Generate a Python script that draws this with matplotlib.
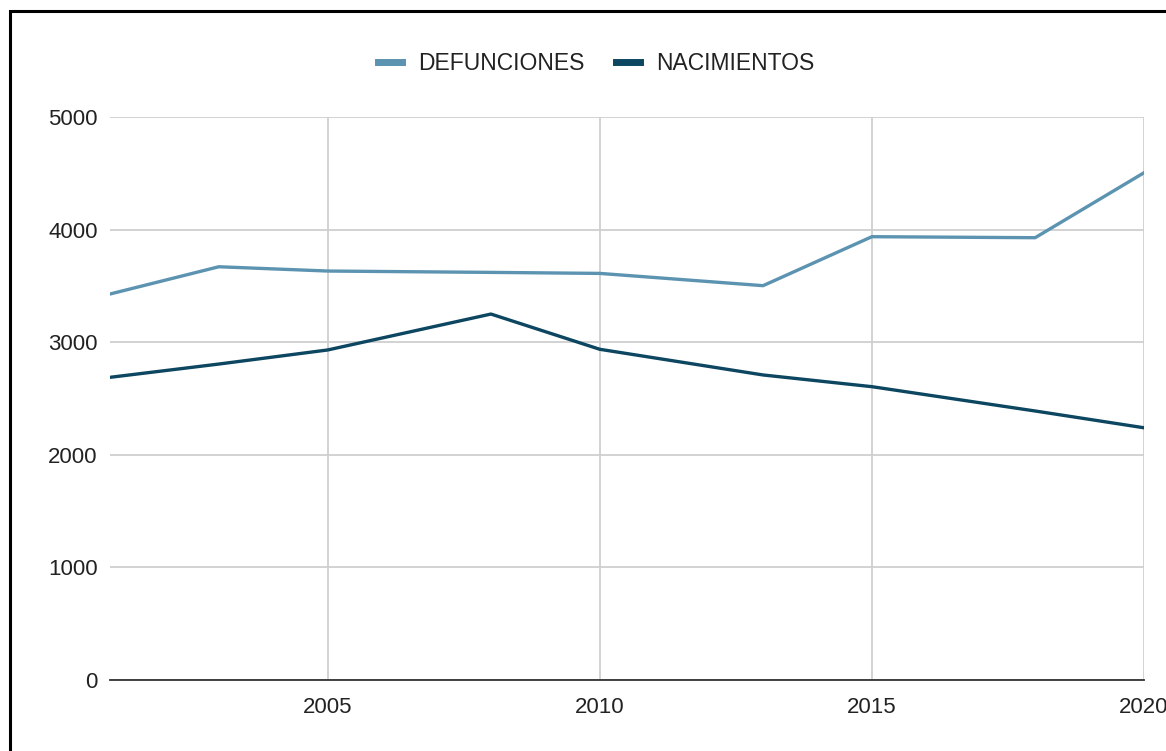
import matplotlib
matplotlib.use("Agg")
import matplotlib.pyplot as plt
from matplotlib.patches import Rectangle

years = [2001, 2003, 2005, 2008, 2010, 2013, 2015, 2018, 2020]
defunciones = [3428, 3670, 3632, 3620, 3611, 3502, 3937, 3928, 4505]
nacimientos = [2688, 2806, 2931, 3250, 2937, 2709, 2605, 2389, 2240]
x_ticks = [2005, 2010, 2015, 2020]
y_ticks = [0, 1000, 2000, 3000, 4000, 5000]

plt.rcParams['font.family'] = ['Liberation Sans', 'DejaVu Sans']

W, H = 1166, 751
fig = plt.figure(figsize=(W / 100, H / 100), dpi=100)
ax = fig.add_axes([110 / W, (H - 680) / H, (1144 - 110) / W, (680 - 117) / H])

c_def = "#5b93b1"
c_nac = "#0c4660"

ax.plot(years, defunciones, color=c_def, lw=2.4, label="DEFUNCIONES", solid_joinstyle="round")
ax.plot(years, nacimientos, color=c_nac, lw=2.4, label="NACIMIENTOS", solid_joinstyle="round")

ax.set_xlim(2001, 2020)
ax.set_ylim(0, 5000)
ax.set_xticks(x_ticks)
ax.set_xticklabels([str(v) for v in x_ticks])
ax.set_yticks(y_ticks)
ax.set_yticklabels([str(v) for v in y_ticks])
ax.grid(True, color="#cfcfcf", lw=1.3)
ax.set_axisbelow(True)
for s in ["top", "right", "left"]:
    ax.spines[s].set_visible(False)
ax.spines["bottom"].set_color("#333333")
ax.spines["bottom"].set_linewidth(1.3)
ax.spines["bottom"].set_zorder(3)
ax.tick_params(axis="both", length=0, labelsize=16, colors="#222222")
ax.tick_params(axis="y", pad=9)
ax.tick_params(axis="x", pad=12)

fig.legend(loc="center", bbox_to_anchor=(596 / W, 1 - 64 / H), ncol=2, frameon=False,
           fontsize=16.5, handlelength=1.05, handletextpad=0.7, columnspacing=1.4,
           labelcolor="#222222")
leg = fig.legends[0]
for l in leg.get_lines():
    l.set_linewidth(5)

fig.patches.append(Rectangle((10 / W, -0.1), 1.2, 1 - 11 / H + 0.1, transform=fig.transFigure,
                             fill=False, edgecolor="black", lw=2.2, clip_on=False))

fig.savefig("out.png", dpi=100)
